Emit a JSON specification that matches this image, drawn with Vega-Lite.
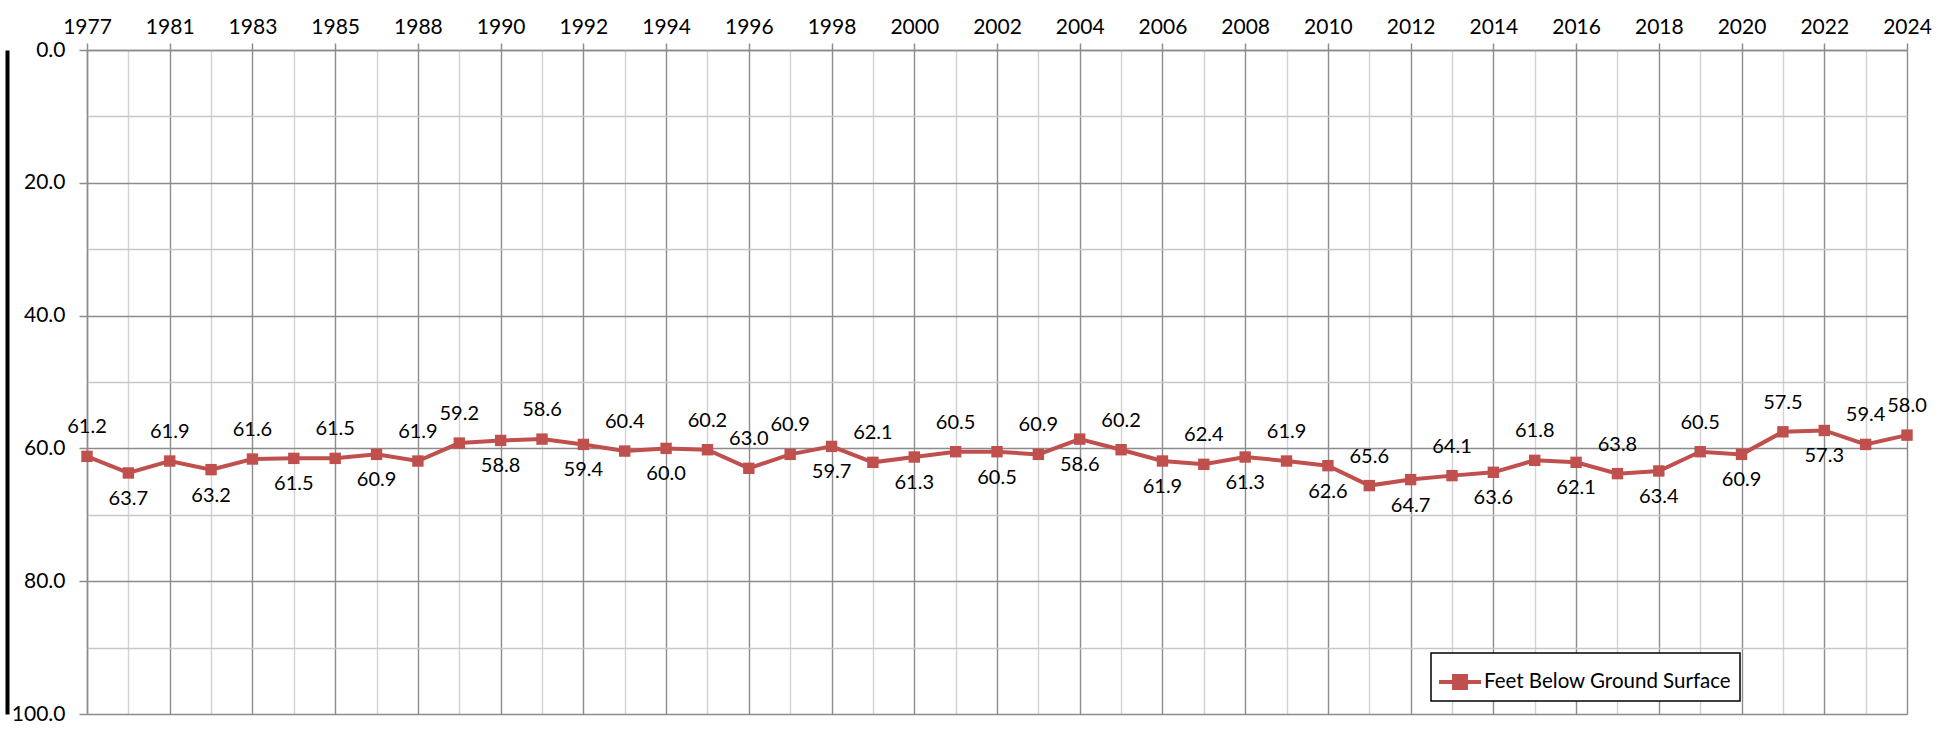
{
  "$schema": "https://vega.github.io/schema/vega-lite/v6.json",
  "width": 1820,
  "height": 664,
  "autosize": {"type": "none"},
  "padding": {"left": 87, "top": 50, "right": 31, "bottom": 22},
  "background": "white",
  "config": {"font": "Lato", "view": {"stroke": null}},
  "data": {"values": [
    {"year": 1977, "depth": 61.2}, {"year": 1980, "depth": 63.7}, {"year": 1981, "depth": 61.9},
    {"year": 1982, "depth": 63.2}, {"year": 1983, "depth": 61.6}, {"year": 1984, "depth": 61.5},
    {"year": 1985, "depth": 61.5}, {"year": 1987, "depth": 60.9}, {"year": 1988, "depth": 61.9},
    {"year": 1989, "depth": 59.2}, {"year": 1990, "depth": 58.8}, {"year": 1991, "depth": 58.6},
    {"year": 1992, "depth": 59.4}, {"year": 1993, "depth": 60.4}, {"year": 1994, "depth": 60.0},
    {"year": 1995, "depth": 60.2}, {"year": 1996, "depth": 63.0}, {"year": 1997, "depth": 60.9},
    {"year": 1998, "depth": 59.7}, {"year": 1999, "depth": 62.1}, {"year": 2000, "depth": 61.3},
    {"year": 2001, "depth": 60.5}, {"year": 2002, "depth": 60.5}, {"year": 2003, "depth": 60.9},
    {"year": 2004, "depth": 58.6}, {"year": 2005, "depth": 60.2}, {"year": 2006, "depth": 61.9},
    {"year": 2007, "depth": 62.4}, {"year": 2008, "depth": 61.3}, {"year": 2009, "depth": 61.9},
    {"year": 2010, "depth": 62.6}, {"year": 2011, "depth": 65.6}, {"year": 2012, "depth": 64.7},
    {"year": 2013, "depth": 64.1}, {"year": 2014, "depth": 63.6}, {"year": 2015, "depth": 61.8},
    {"year": 2016, "depth": 62.1}, {"year": 2017, "depth": 63.8}, {"year": 2018, "depth": 63.4},
    {"year": 2019, "depth": 60.5}, {"year": 2020, "depth": 60.9}, {"year": 2021, "depth": 57.5},
    {"year": 2022, "depth": 57.3}, {"year": 2023, "depth": 59.4}, {"year": 2024, "depth": 58.0}
  ]},
  "encoding": {
    "x": {
      "field": "year", "type": "ordinal", "sort": null,
      "scale": {"type": "point", "padding": 0},
      "axis": {
        "orient": "top", "title": null, "labelAngle": 0, "labelFontSize": 21, "labelColor": "#000",
        "labelPadding": 6, "labelOverlap": false, "tickSize": 7, "tickWidth": 1.5,
        "domainColor": "#8c8c8c", "domainWidth": 1.5, "grid": true, "gridWidth": 1.4,
        "gridColor": {"condition": {"test": "datum.value >= 1988 ? datum.value % 2 == 0 : indexof([1977,1981,1983,1985], datum.value) >= 0", "value": "#8c8c8c"}, "value": "#d2d2d2"},
        "tickColor": {"condition": {"test": "datum.value >= 1988 ? datum.value % 2 == 0 : indexof([1977,1981,1983,1985], datum.value) >= 0", "value": "#8c8c8c"}, "value": "#ffffff"},
        "labelExpr": "(datum.value >= 1988 ? datum.value % 2 == 0 : indexof([1977,1981,1983,1985], datum.value) >= 0) ? datum.label : ''"
      }
    }
  },
  "layer": [
    {
      "encoding": {
        "y": {
          "field": "depth", "type": "quantitative",
          "scale": {"domain": [0, 100], "reverse": true, "nice": false},
          "axis": {
            "title": null, "values": [0, 10, 20, 30, 40, 50, 60, 70, 80, 90, 100], "format": ".1f",
            "labelExpr": "datum.value % 20 == 0 ? datum.label : ''",
            "labelFontSize": 21, "labelColor": "#000", "labelPadding": 14, "tickSize": 8, "tickWidth": 1.5,
            "domainColor": "#8c8c8c", "domainWidth": 1.5, "grid": true, "gridWidth": 1.4,
            "gridColor": {"condition": {"test": "datum.value % 20 == 0", "value": "#8c8c8c"}, "value": "#c8c8c8"},
            "tickColor": {"condition": {"test": "datum.value % 20 == 0", "value": "#8c8c8c"}, "value": "#ffffff"}
          }
        }
      },
      "layer": [
        {"mark": {"type": "line", "color": "#C0504D", "strokeWidth": 4}, "encoding": {}},
        {
          "mark": {"type": "square", "filled": true, "size": 130, "opacity": 1},
          "encoding": {
            "color": {
              "datum": "Feet Below Ground Surface", "type": "nominal",
              "scale": {"range": ["#C0504D"]},
              "legend": {
                "orient": "none", "legendX": 1344, "legendY": 603, "title": null,
                "symbolType": "M-1,-0.1L1,-0.1L1,0.1L-1,0.1Z M-0.38,-0.38L0.38,-0.38L0.38,0.38L-0.38,0.38Z",
                "symbolSize": 1764, "symbolStrokeWidth": 0, "symbolOpacity": 1,
                "labelFontSize": 20.5, "labelColor": "#000", "labelOffset": 3, "labelLimit": 400,
                "padding": 8, "strokeColor": "#000", "fillColor": "white",
                "encode": {"legend": {"update": {"strokeWidth": {"value": 1.5}}}}
              }
            }
          }
        },
        {
          "transform": [{"filter": {"field": "year", "oneOf": [1977, 1981, 1983, 1985, 1988, 1989, 1991, 1993, 1995, 1996, 1997, 1999, 2001, 2003, 2005, 2007, 2009, 2011, 2013, 2015, 2017, 2019, 2021, 2023, 2024]}}],
          "mark": {"type": "text", "dy": -29, "fontSize": 20, "baseline": "middle", "color": "#000"},
          "encoding": {"text": {"field": "depth", "type": "quantitative", "format": ".1f"}}
        },
        {
          "transform": [{"filter": {"not": {"field": "year", "oneOf": [1977, 1981, 1983, 1985, 1988, 1989, 1991, 1993, 1995, 1996, 1997, 1999, 2001, 2003, 2005, 2007, 2009, 2011, 2013, 2015, 2017, 2019, 2021, 2023, 2024]}}}],
          "mark": {"type": "text", "dy": 26, "fontSize": 20, "baseline": "middle", "color": "#000"},
          "encoding": {"text": {"field": "depth", "type": "quantitative", "format": ".1f"}}
        }
      ]
    },
    {
      "mark": {"type": "line", "opacity": 0},
      "encoding": {
        "y": {
          "field": "depth", "type": "quantitative",
          "scale": {"domain": [0, 100], "reverse": true, "nice": false},
          "axis": {"orient": "left", "offset": 80, "title": null, "labels": false, "ticks": false, "grid": false, "domainColor": "#000", "domainWidth": 4}
        }
      }
    }
  ],
  "resolve": {"axis": {"y": "independent"}}
}
